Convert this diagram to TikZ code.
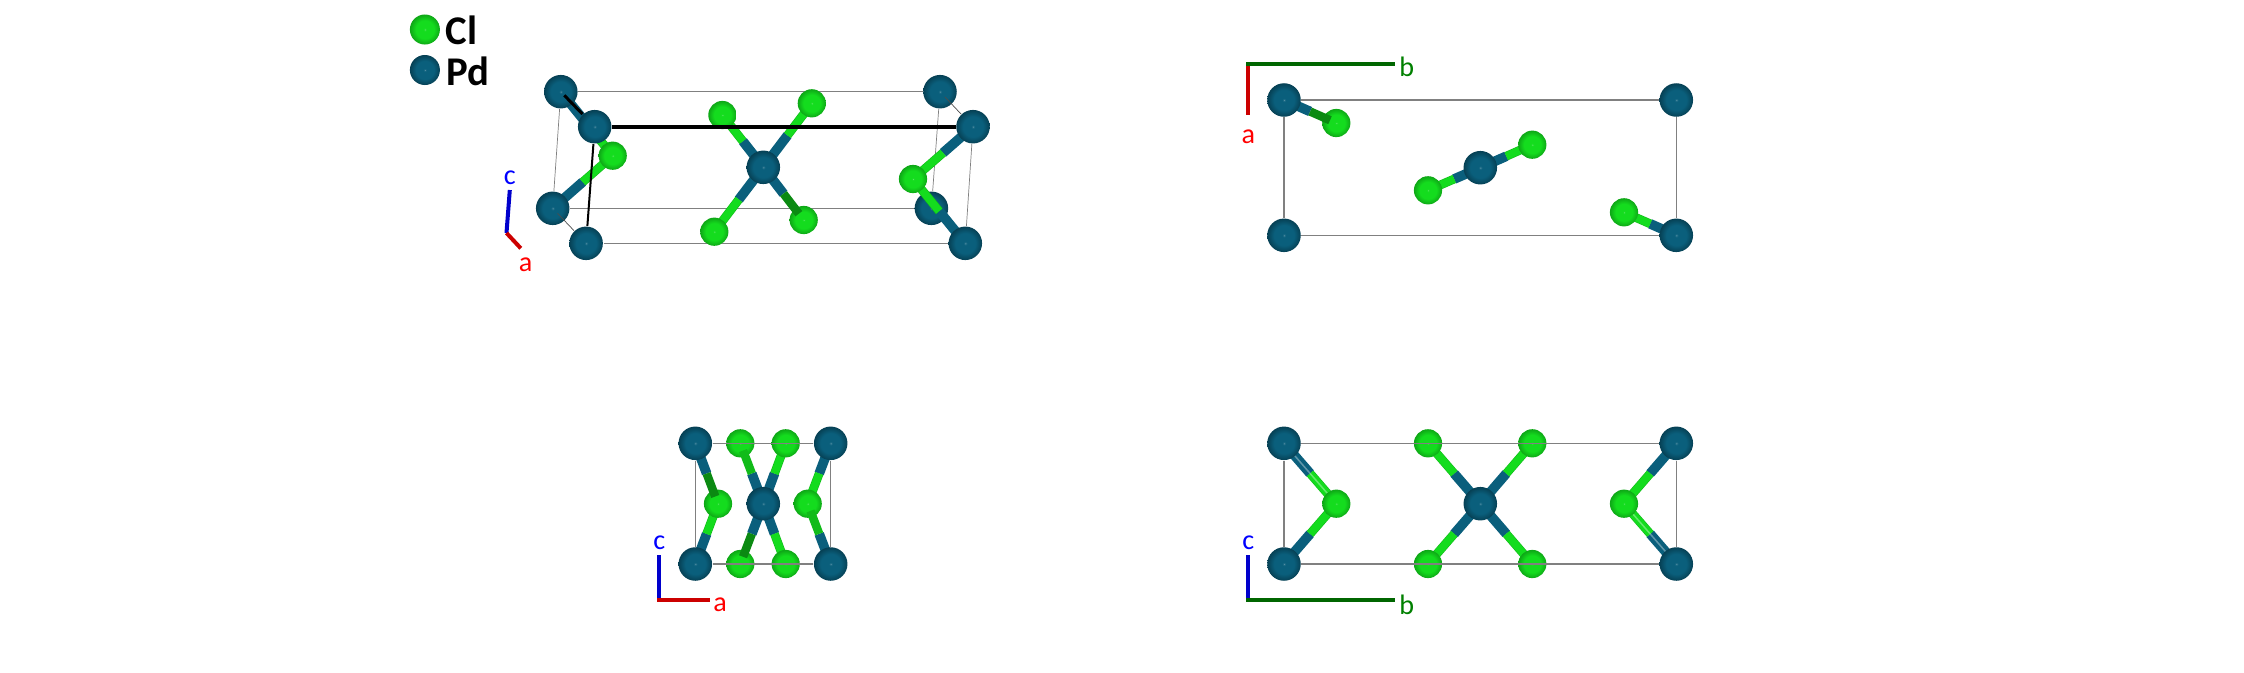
\documentclass[tikz,border=0pt]{standalone}
\usepackage{fontspec}
\setmainfont{Carlito}
\usetikzlibrary{calc}
\definecolor{pdblue}{HTML}{0A5F7C}
\definecolor{pddark}{HTML}{04303F}
\definecolor{clgreen}{HTML}{14DC1E}
\definecolor{cldark}{HTML}{0B8A12}
\definecolor{axred}{HTML}{CC0000}
\definecolor{axgreen}{HTML}{006600}
\definecolor{axblue}{HTML}{0000CC}
\pgfdeclareradialshading{pdball}{\pgfpoint{0bp}{0bp}}{color(0bp)=(pdblue!70!white);color(2bp)=(pdblue);color(15bp)=(pdblue);color(25bp)=(pdblue!35!pddark);color(50bp)=(pddark)}
\pgfdeclareradialshading{clball}{\pgfpoint{0bp}{0bp}}{color(0bp)=(clgreen!70!white);color(2bp)=(clgreen);color(15bp)=(clgreen);color(25bp)=(clgreen!35!cldark);color(50bp)=(cldark)}
\pgfdeclarelayer{cell}
\pgfdeclarelayer{bond}
\pgfdeclarelayer{front}
\pgfsetlayers{cell,bond,main,front}
\tikzstyle{pd}=[circle,inner sep=0,minimum size=.335cm,shading=pdball]
\tikzstyle{cl}=[circle,inner sep=0,minimum size=.282cm,shading=clball]
\tikzstyle{pdbond}=[draw=pdblue,line width=.097cm]
\tikzstyle{clbond}=[draw=clgreen!85!black,double=clgreen,line width=.006cm,double distance=.076cm]
\tikzstyle{clfront}=[draw=cldark,line width=.085cm]
\tikzstyle{clbright}=[draw=clgreen!85!black,line width=.085cm]
\tikzstyle{shine}=[draw=white,opacity=.35,line width=.015cm]
\tikzstyle{edge}=[draw=gray,line width=.013cm]
\tikzstyle{thinedge}=[draw=gray,line width=.007cm]
\tikzstyle{axis}=[line width=.04cm]
\tikzstyle{legend}=[font=\fontsize{11.6pt}{13pt}\selectfont\bfseries,inner sep=0,anchor=west]
\tikzstyle{axlabel}=[font=\fontsize{8pt}{9pt}\selectfont,inner sep=0]
% bond under both atoms
\newcommand{\pdcl}[2]{%
  \begin{pgfonlayer}{bond}
    \draw[pdbond] (#1.center)--($(#1)!.5!(#2)$);
    \draw[clbond] ($(#1)!.5!(#2)$)--(#2.center);
  \end{pgfonlayer}}
% bond whose green end lies over the Cl atom
\newcommand{\pdclover}[3][clfront]{%
  \begin{pgfonlayer}{bond}
    \draw[pdbond] (#2.center)--($(#2)!.5!(#3)$);
  \end{pgfonlayer}
  \begin{pgfonlayer}{front}
    \draw[#1] ($(#2)!.5!(#3)$)--($(#2)!.88!(#3)$);
  \end{pgfonlayer}}
\newcommand{\pdclshine}[2]{%
  \pdcl{#1}{#2}
  \begin{pgfonlayer}{bond}
    \draw[shine] (#1.center)--(#2.center);
  \end{pgfonlayer}}

\begin{document}
\begin{tikzpicture}[x=.01cm,y=-.01cm]
    \useasboundingbox (0,0) rectangle (2244,672);
    % legend
    \node[cl,minimum size=.3cm] (keycl) at (424.9,29.5) {};
    \node[pd,minimum size=.3cm] (keypd) at (424.9,70) {};
    \node[legend] (keycltext) at (445,30) {Cl};
    \node[legend] (keypdtext) at (446,71) {Pd};

    % perspective view
    \node[pd] (a1) at (560.8,91.7) {};
    \node[pd] (a2) at (940,91.7) {};
    \node[pd] (a3) at (552.7,208.3) {};
    \node[pd] (a5) at (586.1,243.3) {};
    \node[pd] (a6) at (965.3,243.3) {};
    \node[pd] (a7) at (594.7,126.7) {};
    \node[pd] (a8) at (973,126.7) {};
    \node[pd] (a9) at (763.3,167.3) {};
    \begin{pgfonlayer}{cell}
      \node[pd] (a4) at (931.4,208.3) {};
      \draw[edge] (a1)--(a2);
      \draw[edge] (a3)--(a4);
      \draw[edge] (a5)--(a6);
      \draw[thinedge] (a1)--(a3);
      \draw[thinedge] (a2)--(a4);
      \draw[thinedge] (a8)--(a6);
    \end{pgfonlayer}
    \node[cl] (b1) at (722.4,115) {};
    \node[cl] (b2) at (811.8,103.3) {};
    \node[cl] (b3) at (714.3,231.7) {};
    \node[cl] (b4) at (803.7,220) {};
    \node[cl] (b5) at (612.7,155.7) {};
    \node[cl] (b6) at (913,179) {};
    \pdcl{a9}{b1}
    \pdcl{a9}{b2}
    \pdcl{a9}{b3}
    \pdclover{a9}{b4}
    \pdcl{a1}{b5}
    \pdcl{a3}{b5}
    \pdcl{a8}{b6}
    \pdcl{a6}{b6}
    \begin{pgfonlayer}{front}
      \draw[black,line width=.036cm] (a7)--(a8);
      \draw[black,line width=.02cm] (a7)--(a5);
      \draw[black,line width=.03cm,shorten <=.05cm] (a1.center)--(a7);
      \draw[thinedge,draw=black!70,shorten <=.07cm] (a2.center)--(a8);
      \draw[thinedge,draw=black!70,shorten <=.07cm] (a3.center)--(a5);
    \end{pgfonlayer}
    \coordinate (ao) at (506.5,233);
    \coordinate (ac) at (509.8,190);
    \coordinate (aa) at (520.8,248.3);
    \draw[axis,axblue] (ao)--(ac);
    \draw[axis,axred] (ao)--(aa);
    \node[axlabel,blue] (aclabel) at (509.8,178) {c};
    \node[axlabel,red] (aalabel) at (525.7,265) {a};

    % view along c
    \node[pd] (c1) at (1284,100) {};
    \node[pd] (c2) at (1676.3,100) {};
    \node[pd] (c3) at (1284,235.3) {};
    \node[pd] (c4) at (1676.3,235.3) {};
    \node[pd] (c5) at (1480.3,167.7) {};
    \node[cl] (d1) at (1336.3,123) {};
    \node[cl] (d2) at (1532.3,144.7) {};
    \node[cl] (d3) at (1428,190.3) {};
    \node[cl] (d4) at (1624,212.3) {};
    \draw[edge] (c1)--(c2);
    \draw[edge] (c2)--(c4);
    \draw[edge] (c4)--(c3);
    \draw[edge] (c3)--(c1);
    \pdclover{c1}{d1}
    \pdcl{c5}{d2}
    \pdcl{c5}{d3}
    \pdcl{c4}{d4}
    \coordinate (co) at (1248.3,64);
    \coordinate (cb) at (1395,64);
    \coordinate (ca) at (1248.3,114.7);
    \draw[axis,axred] (co)--(ca);
    \draw[axis,axgreen] ($(co)+(-2,0)$)--(cb);
    \node[axlabel,red] (calabel) at (1248.3,136.7) {a};
    \node[axlabel,green!50!black] (cblabel) at (1406.7,67.3) {b};

    % view along b
    \node[pd] (e1) at (695.3,443.3) {};
    \node[pd] (e2) at (830.7,443.3) {};
    \node[pd] (e3) at (695.3,564) {};
    \node[pd] (e4) at (830.7,564) {};
    \node[pd] (e5) at (763.3,503.7) {};
    \node[cl] (f1) at (740.3,443.3) {};
    \node[cl] (f2) at (785.7,443.3) {};
    \node[cl] (f3) at (740.3,564) {};
    \node[cl] (f4) at (785.7,564) {};
    \node[cl] (f5) at (718,503.7) {};
    \node[cl] (f6) at (807.7,503.7) {};
    \draw[edge] (e1)--(e2);
    \draw[edge] (e2)--(e4);
    \draw[edge] (e4)--(e3);
    \draw[edge] (e3)--(e1);
    \pdclover[clbright]{e5}{f1}
    \pdcl{e5}{f2}
    \pdclover{e5}{f3}
    \pdcl{e5}{f4}
    \pdclover{e1}{f5}
    \pdcl{e3}{f5}
    \pdcl{e2}{f6}
    \pdclover[clbright]{e4}{f6}
    \coordinate (eo) at (659.3,600);
    \coordinate (ec) at (659.3,555);
    \coordinate (ea) at (710,600);
    \draw[axis,axblue] (eo)--(ec);
    \draw[axis,axred] ($(eo)+(-2,0)$)--(ea);
    \node[axlabel,blue] (eclabel) at (659.3,542.7) {c};
    \node[axlabel,red] (ealabel) at (720,605) {a};

    % view along a
    \node[pd] (g1) at (1284,443.3) {};
    \node[pd] (g2) at (1676.3,443.3) {};
    \node[pd] (g3) at (1284,564) {};
    \node[pd] (g4) at (1676.3,564) {};
    \node[pd] (g5) at (1480.3,503.7) {};
    \node[cl] (h1) at (1428,443.3) {};
    \node[cl] (h2) at (1532.3,443.3) {};
    \node[cl] (h3) at (1428,564) {};
    \node[cl] (h4) at (1532.3,564) {};
    \node[cl] (h5) at (1336.3,503.7) {};
    \node[cl] (h6) at (1624,503.7) {};
    \draw[edge] (g1)--(g2);
    \draw[edge] (g2)--(g4);
    \draw[edge] (g4)--(g3);
    \draw[edge] (g3)--(g1);
    \pdcl{g5}{h1}
    \pdcl{g5}{h2}
    \pdcl{g5}{h3}
    \pdcl{g5}{h4}
    \pdclshine{g1}{h5}
    \pdcl{g3}{h5}
    \pdcl{g2}{h6}
    \pdclshine{g4}{h6}
    \coordinate (go) at (1248.3,600);
    \coordinate (gc) at (1248.3,555);
    \coordinate (gb) at (1395,600);
    \draw[axis,axblue] (go)--(gc);
    \draw[axis,axgreen] ($(go)+(-2,0)$)--(gb);
    \node[axlabel,blue] (gclabel) at (1248.3,542.7) {c};
    \node[axlabel,green!50!black] (gblabel) at (1406.7,605) {b};
  \end{tikzpicture}
\end{document}
